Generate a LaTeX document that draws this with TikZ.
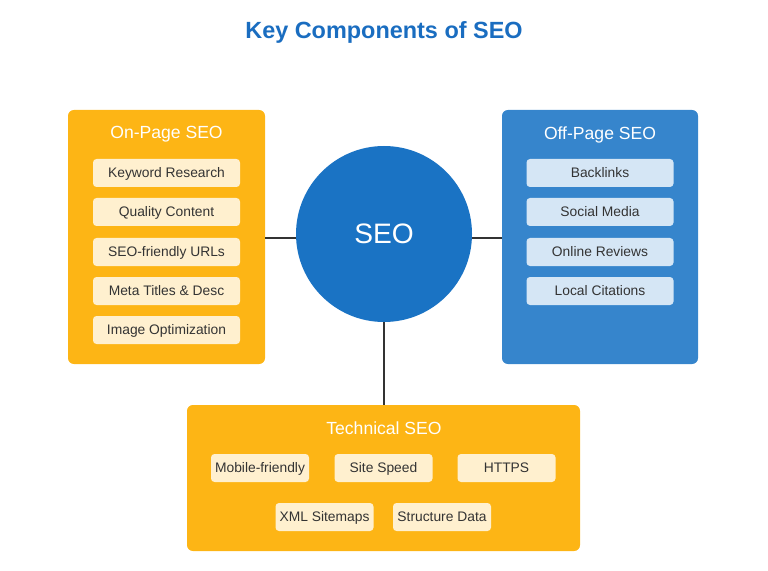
\documentclass[tikz,border=0pt]{standalone}
\usepackage{fontspec}
\setmainfont{Liberation Sans}
\definecolor{seoblue}{HTML}{1A73C4}
\definecolor{offblue}{HTML}{3685CC}
\definecolor{onorange}{HTML}{FDB515}
\definecolor{cream}{HTML}{FFF0CF}
\definecolor{lightblue}{HTML}{D5E6F5}
\definecolor{titleblue}{HTML}{1A6DC0}
\definecolor{itemtext}{HTML}{333333}
\begin{document}
\begin{tikzpicture}[x=0.03cm, y=-0.03cm,
    panel/.style={rounded corners=5pt},
    paneltitle/.style={text=white, font=\fontsize{15}{17}\selectfont},
    item/.style={rounded corners=3pt, minimum width=147*0.03cm, minimum height=28*0.03cm,
      text=itemtext, font=\fontsize{11.8}{14}\selectfont, inner sep=0pt,
      text height=1.65ex, text depth=0.15ex},
    link/.style={draw=black!80, line width=1.2pt}]
    \useasboundingbox (0,0) rectangle (768,571);

    % Title
    \node[text=titleblue, font=\bfseries\fontsize{20}{23}\selectfont] (title) at (384,32) {Key Components of SEO};

    % Panels
    \fill[onorange, panel] (68,110) rectangle (265,364);
    \fill[offblue, panel] (502,110) rectangle (698,364);
    \fill[onorange, panel] (187,405) rectangle (580,551);
    \coordinate (onR) at (265,238);
    \coordinate (offL) at (502,238);
    \coordinate (techT) at (384,405);

    % Centre
    \node[circle, fill=seoblue, minimum size=176*0.03cm, text=white,
      font=\fontsize{24}{28}\selectfont] (seo) at (384,234) {SEO};

    % On-Page
    \node[paneltitle] (on) at (166.5,134.5) {On-Page SEO};
    \node[item, fill=cream] (on1) at (166.5,173) {Keyword Research};
    \node[item, fill=cream] (on2) at (166.5,212) {Quality Content};
    \node[item, fill=cream] (on3) at (166.5,252) {SEO-friendly URLs};
    \node[item, fill=cream] (on4) at (166.5,291) {Meta Titles \& Desc};
    \node[item, fill=cream] (on5) at (166.5,330) {Image Optimization};

    % Off-Page
    \node[paneltitle] (off) at (600,134.5) {Off-Page SEO};
    \node[item, fill=lightblue] (off1) at (600,173) {Backlinks};
    \node[item, fill=lightblue] (off2) at (600,212) {Social Media};
    \node[item, fill=lightblue] (off3) at (600,252) {Online Reviews};
    \node[item, fill=lightblue] (off4) at (600,291) {Local Citations};

    % Technical
    \node[paneltitle] (tech) at (384,428.5) {Technical SEO};
    \node[item, fill=cream, minimum width=98*0.03cm] (t1) at (260,468) {Mobile-friendly};
    \node[item, fill=cream, minimum width=98*0.03cm] (t2) at (383.5,468) {Site Speed};
    \node[item, fill=cream, minimum width=98*0.03cm] (t3) at (506.5,468) {HTTPS};
    \node[item, fill=cream, minimum width=98*0.03cm] (t4) at (324.5,517) {XML Sitemaps};
    \node[item, fill=cream, minimum width=98*0.03cm] (t5) at (442,517) {Structure Data};

    % Links
    \draw[link] (onR) -- (seo.west |- onR);
    \draw[link] (offL) -- (seo.east |- offL);
    \draw[link] (seo.south) -- (techT);
\end{tikzpicture}
\end{document}
